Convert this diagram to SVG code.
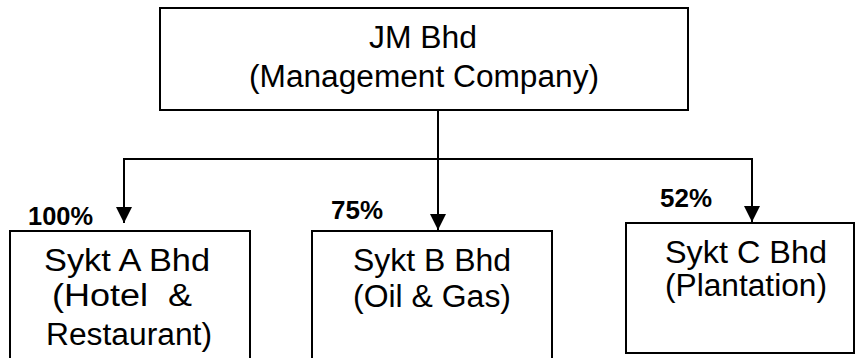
<svg xmlns="http://www.w3.org/2000/svg" width="855" height="358" viewBox="0 0 855 358">
  <style>
    .box { fill: #ffffff; stroke: #000000; stroke-width: 2; }
    .label { font-family: "Liberation Sans", Arial, sans-serif; font-size: 31px; fill: #000000; white-space: pre; }
    .pct { font-family: "Liberation Sans", Arial, sans-serif; font-size: 25px; font-weight: bold; fill: #000000; }
    .wire { fill: none; stroke: #000000; stroke-width: 2; }
  </style>
  <defs>
    <marker id="arrow" markerUnits="userSpaceOnUse" markerWidth="16" markerHeight="16" refX="16" refY="8" orient="auto">
      <path d="M0,0 L16,8 L0,16 Z" fill="#000000"/>
    </marker>
  </defs>
  <rect width="855" height="358" fill="#ffffff"/>

  <!-- parent company -->
  <g id="jm-bhd">
    <rect class="box" x="160" y="8" width="528" height="102"/>
    <text class="label" x="369" y="48" textLength="108" lengthAdjust="spacingAndGlyphs">JM Bhd</text>
    <text class="label" x="249" y="87" textLength="350" lengthAdjust="spacingAndGlyphs">(Management Company)</text>
  </g>

  <!-- subsidiaries -->
  <g id="sykt-a">
    <rect class="box" x="10" y="231" width="240" height="140"/>
    <text class="label" x="44" y="271" textLength="166" lengthAdjust="spacingAndGlyphs">Sykt A Bhd</text>
    <text class="label" x="52" y="306" textLength="140" lengthAdjust="spacingAndGlyphs">(Hotel  &amp;</text>
    <text class="label" x="46" y="345" textLength="166" lengthAdjust="spacingAndGlyphs">Restaurant)</text>
  </g>

  <g id="sykt-b">
    <rect class="box" x="312" y="231" width="240" height="140"/>
    <text class="label" x="353" y="271" textLength="158" lengthAdjust="spacingAndGlyphs">Sykt B Bhd</text>
    <text class="label" x="353" y="307" textLength="158" lengthAdjust="spacingAndGlyphs">(Oil &amp; Gas)</text>
  </g>

  <g id="sykt-c">
    <rect class="box" x="626" y="223" width="228" height="130"/>
    <text class="label" x="665" y="263" textLength="162" lengthAdjust="spacingAndGlyphs">Sykt C Bhd</text>
    <text class="label" x="665" y="296" textLength="162" lengthAdjust="spacingAndGlyphs">(Plantation)</text>
  </g>

  <!-- ownership percentages -->
  <g id="shares">
    <text class="pct" x="28" y="225" textLength="65" lengthAdjust="spacingAndGlyphs">100%</text>
    <text class="pct" x="331" y="219" textLength="52" lengthAdjust="spacingAndGlyphs">75%</text>
    <text class="pct" x="660" y="207" textLength="52" lengthAdjust="spacingAndGlyphs">52%</text>
  </g>

  <!-- connectors -->
  <g id="connectors">
    <line class="wire" x1="438" y1="110" x2="438" y2="159"/>
    <line class="wire" x1="123" y1="159" x2="753" y2="159"/>
    <line class="wire" x1="124" y1="158" x2="124" y2="223" marker-end="url(#arrow)"/>
    <line class="wire" x1="438" y1="159" x2="438" y2="230" marker-end="url(#arrow)"/>
    <line class="wire" x1="752" y1="158" x2="752" y2="222" marker-end="url(#arrow)"/>
  </g>
</svg>
